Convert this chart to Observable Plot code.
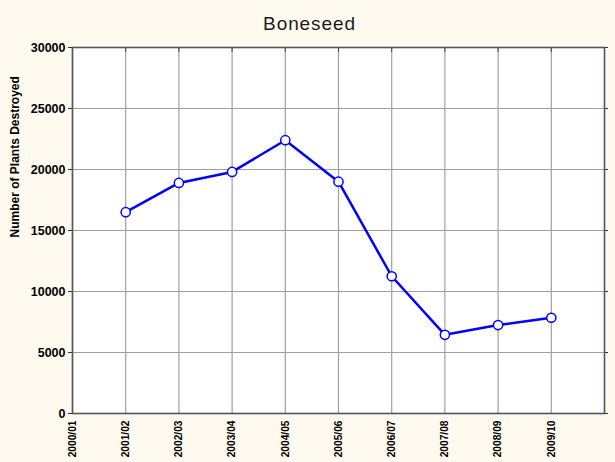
<!DOCTYPE html>
<html>
<head>
<meta charset="utf-8">
<script src="https://cdn.jsdelivr.net/npm/d3@7"></script>
<script src="https://cdn.jsdelivr.net/npm/@observablehq/plot@0.6"></script>
<style>
  html, body { margin: 0; padding: 0; background: #fffaef; }
  #wrap { width: 615px; height: 462px; background: #fffaef; overflow: hidden; }
  #title { height: 40px; box-sizing: border-box; padding-top: 13px; text-align: center;
           font-family: "Liberation Sans", Arial, sans-serif; font-size: 19px; letter-spacing: 0.9px;
           color: #1a1a1a; line-height: normal; padding-left: 4px; }
  svg { display: block; }
</style>
</head>
<body>
<div id="wrap">
  <div id="title">Boneseed</div>
  <div id="chart"></div>
</div>
<script>
const seasons = ["2000/01","2001/02","2002/03","2003/04","2004/05","2005/06","2006/07","2007/08","2008/09","2009/10"];
const plantSeasons = ["2001/02","2002/03","2003/04","2004/05","2005/06","2006/07","2007/08","2008/09","2009/10"];
const plantsDestroyed = [16500, 18900, 19800, 22400, 19000, 11250, 6450, 7250, 7850];
const yTicks = [0, 5000, 10000, 15000, 20000, 25000, 30000];
const yLabel = "Number of Plants Destroyed";

const xTicks = seasons.map((s, i) => i);
const data = plantSeasons.map((s, i) => ({x: seasons.indexOf(s), y: plantsDestroyed[i]}));

const chart = Plot.plot({
  width: 615,
  height: 422,
  marginTop: 7,
  marginBottom: 49,
  marginLeft: 72,
  marginRight: 11,
  style: {background: "transparent", fontFamily: "Liberation Sans, Arial, sans-serif", color: "black"},
  x: {domain: [0, seasons.length]},
  y: {domain: [0, 30000]},
  marks: [
    Plot.frame({fill: "white"}),
    Plot.gridX({ticks: xTicks, stroke: "#a0a0a0", strokeOpacity: 1, strokeWidth: 1.2}),
    Plot.gridY({ticks: yTicks, stroke: "#a0a0a0", strokeOpacity: 1, strokeWidth: 1.2}),
    Plot.axisY({ticks: yTicks, tickSize: 4, tickPadding: 3, tickFormat: d => String(d),
                fontSize: 12.5, fontWeight: "bold", label: null, stroke: "#333"}),
    Plot.axisY({ticks: yTicks, anchor: "right", tickSize: 3, tickFormat: () => "", label: null, stroke: "#333"}),
    Plot.axisX({ticks: xTicks, anchor: "top", tickSize: -4, tickFormat: () => "", label: null, stroke: "#444"}),
    Plot.axisX({ticks: xTicks, tickFormat: i => seasons[i], tickRotate: -90, tickSize: 0, tickPadding: 7,
                fontSize: 10.2, fontWeight: "bold", label: null}),
    Plot.frame({stroke: "#555", strokeWidth: 1.6}),
    Plot.line(data, {x: "x", y: "y", stroke: "#0000ff", strokeWidth: 2.5}),
    Plot.dot(data, {x: "x", y: "y", r: 4.6, fill: "white", stroke: "#0000ff", strokeWidth: 1.5}),
    Plot.text([yLabel], {frameAnchor: "left", text: d => d, rotate: -90, dx: -57, dy: 7,
                         fontSize: 12, fontWeight: "bold", fill: "black"})
  ]
});
document.getElementById("chart").appendChild(chart);
</script>
</body>
</html>
